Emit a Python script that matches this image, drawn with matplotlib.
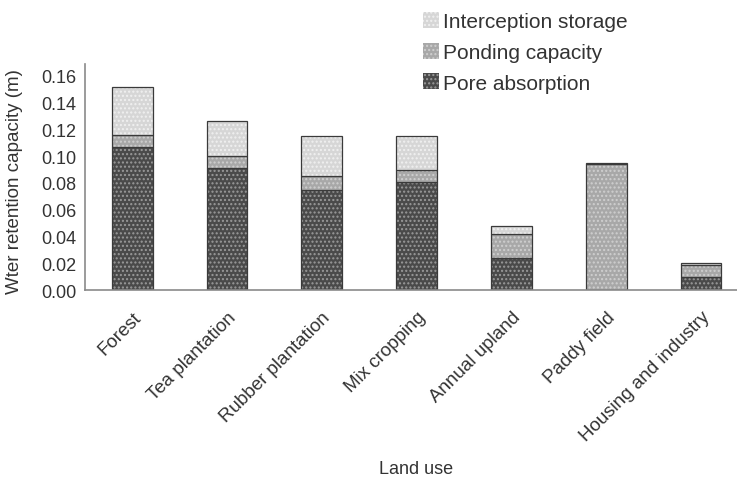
import matplotlib
matplotlib.use("Agg")
import matplotlib.pyplot as plt
import numpy as np

categories = ["Forest", "Tea plantation", "Rubber plantation", "Mix cropping",
              "Annual upland", "Paddy field", "Housing and industry"]
pore_absorption = [0.107, 0.091, 0.075, 0.081, 0.024, 0.000, 0.010]
ponding_capacity = [0.009, 0.009, 0.010, 0.009, 0.018, 0.094, 0.009]
interception_storage = [0.036, 0.026, 0.030, 0.025, 0.006, 0.001, 0.001]
yticks = [0.00, 0.02, 0.04, 0.06, 0.08, 0.10, 0.12, 0.14, 0.16]

plt.rcParams["font.family"] = ["Liberation Sans", "DejaVu Sans"]
plt.rcParams["hatch.linewidth"] = 1.0

fig = plt.figure(figsize=(7.37, 4.81), dpi=100)
ax = fig.add_axes([0.1153, 0.395, 0.900, 0.470])

x = np.arange(len(categories))
w = 0.43
series = [
    (pore_absorption, "Pore absorption", "#4a4a4a", "#9a9a9a", "...."),
    (ponding_capacity, "Ponding capacity", "#a8a8a8", "#cfcfcf", "...."),
    (interception_storage, "Interception storage", "#d6d6d6", "#f0f0f0", "...."),
]
bottom = np.zeros(len(categories))
handles = []
for vals, label, face, hatch_col, hatch in series:
    vals = np.array(vals)
    h = ax.bar(x, vals, w, bottom=bottom, color=face, edgecolor=hatch_col,
               hatch=hatch, linewidth=0, label=label)
    ax.bar(x, vals, w, bottom=bottom, fill=False, edgecolor="#3a3a3a", linewidth=0.9)
    handles.append(h)
    bottom += vals

ax.set_xlim(-0.5, len(categories) - 0.5)
ax.set_ylim(0, 0.169)
ax.set_yticks(yticks)
ax.set_yticklabels([f"{v:.2f}" for v in yticks])
ax.set_xticks(x)
ax.set_xticklabels(categories, rotation=45, ha="right", rotation_mode="anchor")
ax.tick_params(length=0, labelsize=13, colors="#333333", pad=6)
ax.tick_params(axis="x", labelsize=13.5, pad=13)
for s in ("top", "right"):
    ax.spines[s].set_visible(False)
for s in ("left", "bottom"):
    ax.spines[s].set_color("#8a8a8a")
    ax.spines[s].set_linewidth(1.2)

fig.text(15 / 737, 1 - 182 / 481, "Wter retention capacity (m)", rotation=90,
         ha="center", va="center", fontsize=13.5, color="#333333")
fig.text(416 / 737, 1 - 470 / 481, "Land use", ha="center", va="center",
         fontsize=13, color="#333333")

fig.legend(handles[::-1], [s[1] for s in series][::-1], loc="upper left",
           bbox_to_anchor=(0.548, 1.012), frameon=False, fontsize=15,
           handlelength=0.8, handleheight=0.8, handletextpad=0.2,
           labelspacing=0.55, labelcolor="#333333")

fig.savefig("out.png", dpi=100)
